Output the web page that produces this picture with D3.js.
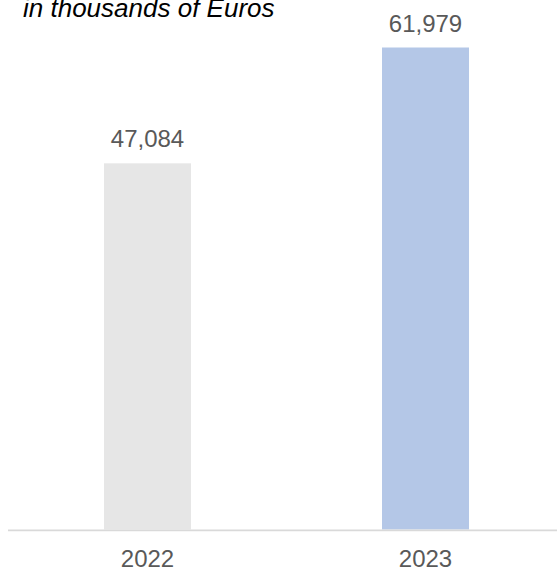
<!DOCTYPE html>
<html>
<head>
<meta charset="utf-8">
<script src="https://cdn.jsdelivr.net/npm/d3@7"></script>
<style>
  body { margin: 0; background: #fff; }
  text { font-family: "Liberation Sans", Arial, sans-serif; }
</style>
</head>
<body>
<div id="chart"></div>
<script>
const years = ["2022", "2023"];
const values = [47084, 61979];
const barColors = ["#e6e6e6", "#b4c7e7"];

const width = 557, height = 576;

const svg = d3.select("#chart")
    .append("svg")
    .attr("width", width)
    .attr("height", height);

const x = d3.scaleBand()
    .domain(years)
    .range([16, 557])
    .paddingInner(0.687)
    .paddingOuter(0.3165);

const y = d3.scaleLinear()
    .domain([0, 61979])
    .range([529.5, 47.5]);

// bars
svg.selectAll(".bar")
    .data(years)
    .enter()
    .append("rect")
    .attr("x", d => x(d))
    .attr("width", x.bandwidth())
    .attr("y", (d, i) => y(values[i]))
    .attr("height", (d, i) => y(0) - y(values[i]))
    .attr("fill", (d, i) => barColors[i]);

// value labels
svg.selectAll(".val")
    .data(years)
    .enter()
    .append("text")
    .attr("x", d => x(d) + x.bandwidth() / 2)
    .attr("y", (d, i) => y(values[i]) - 16)
    .attr("text-anchor", "middle")
    .attr("fill", "#595959")
    .style("font-size", "24px")
    .text((d, i) => d3.format(",")(values[i]));

// baseline
svg.append("line")
    .attr("x1", 8)
    .attr("x2", 557)
    .attr("y1", y(0) + 0.75)
    .attr("y2", y(0) + 0.75)
    .attr("stroke", "#d9d9d9")
    .attr("stroke-width", 1.75);

// category labels
const axis = svg.append("g")
    .attr("transform", `translate(0,${y(0)})`)
    .call(d3.axisBottom(x).tickSize(0).tickPadding(20));
axis.select(".domain").remove();
axis.selectAll("text")
    .attr("fill", "#595959")
    .style("font-size", "24px")
    .style("font-family", "Liberation Sans, Arial, sans-serif");

// title
svg.append("text")
    .attr("x", 23)
    .attr("y", 17)
    .attr("fill", "#000")
    .style("font-size", "26px")
    .style("font-style", "italic")
    .text("in thousands of Euros");
</script>
</body>
</html>
